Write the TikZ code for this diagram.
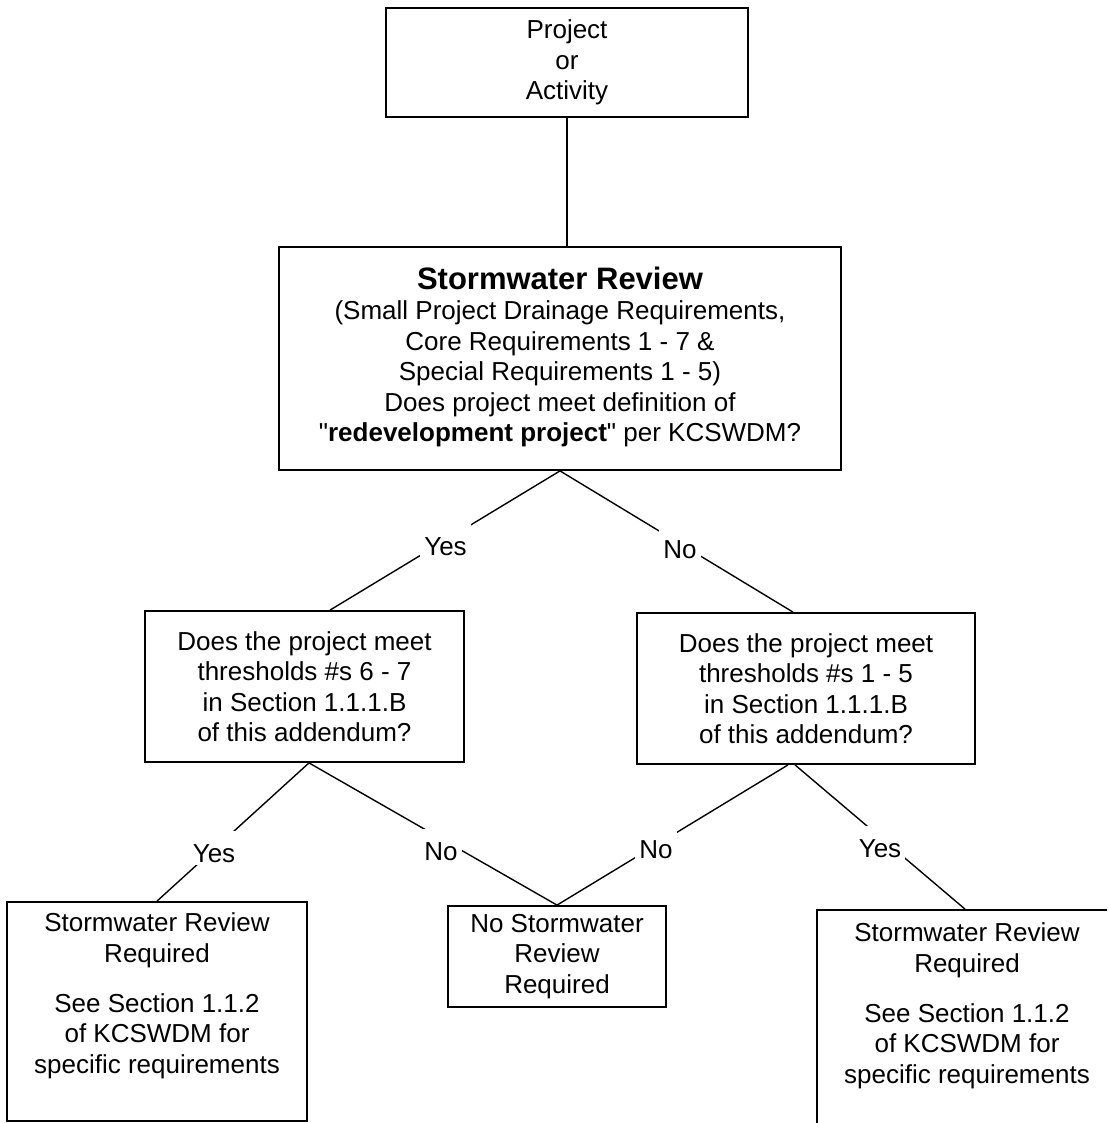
\documentclass[tikz,border=0pt]{standalone}
\usepackage{fontspec}
\setmainfont{Liberation Sans}
\newfontfamily\plainsans{Liberation Sans}
\newcommand{\sq}{{\plainsans\char"22}}
\begin{document}
\begin{tikzpicture}[x=1pt,y=-1pt,
  every node/.style={font=\fontsize{26}{30.5}\selectfont},
  box/.style={draw, line width=1.8pt, inner sep=0pt, align=center},
  txt/.style={inner sep=0pt, align=center},
  conn/.style={line width=1.4pt},
  lbl/.style={fill=white, inner xsep=4pt, inner ysep=0pt, text height=31pt, text depth=3pt, anchor=base}]
\fill[white] (0,0) rectangle (1107,1123);
\useasboundingbox (0,0) rectangle (1107,1123);
\clip (0,0) rectangle (1107,1123);

% boxes
\node[box, minimum width=362pt, minimum height=109pt] (top) at (567,62.5) {Project\\or\\Activity};
\node[box, minimum width=562pt, minimum height=223pt] (sr) at (560,358.5)
  {{\fontsize{31}{34}\selectfont\bfseries Stormwater Review}\\
   (Small Project Drainage Requirements,\\
   Core Requirements 1 - 7 \&\\
   Special Requirements 1 - 5)\\
   Does project meet definition of\\
   \sq\textbf{redevelopment project}\sq{} per KCSWDM?\\[-22pt]\mbox{}};
\node[box, minimum width=319pt, minimum height=151pt] (lm) at (304.5,686.5)
  {Does the project meet\\thresholds \#s 6 - 7\\in Section 1.1.1.B\\of this addendum?};
\node[box, minimum width=338pt, minimum height=151pt] (rm) at (806,688.5)
  {Does the project meet\\thresholds \#s 1 - 5\\in Section 1.1.1.B\\of this addendum?};
\node[box, minimum width=218pt, minimum height=101pt] (nosr) at (557,956.5)
  {No Stormwater\\Review\\Required};
\node[box, minimum width=300pt, minimum height=219pt] (bl) at (157,1011.5) {};
\node[txt] (bltext) at (157,996)
  {Stormwater Review\\Required\\[19.5pt]See Section 1.1.2\\of KCSWDM for\\specific requirements};
\node[box, minimum width=300pt, minimum height=230pt] (br) at (967,1025) {};
\node[txt] (brtext) at (967,1006)
  {Stormwater Review\\Required\\[19.5pt]See Section 1.1.2\\of KCSWDM for\\specific requirements};

% connectors
\draw[conn] (top.south) -- (top.south |- sr.north);
\draw[conn] (sr.south) -- ([xshift=25.5pt]lm.north);
\draw[conn] (sr.south) -- ([xshift=-13pt]rm.north);
\draw[conn] ([xshift=4.5pt]lm.south) -- (bl.north);
\draw[conn] ([xshift=4.5pt]lm.south) -- (nosr.north);
\draw[conn] ([xshift=-18pt]rm.south) -- (nosr.north);
\draw[conn] ([xshift=-11pt]rm.south) -- ([xshift=-2pt]br.north);

% labels
\node[lbl] (y1) at (445.5,555) {Yes};
\node[lbl] (n1) at (680,558) {No};
\node[lbl] (y2) at (214,862) {Yes};
\node[lbl] (n2) at (441,860) {No};
\node[lbl] (n3) at (656,858) {No};
\node[lbl] (y3) at (880,857) {Yes};
\end{tikzpicture}
\end{document}
